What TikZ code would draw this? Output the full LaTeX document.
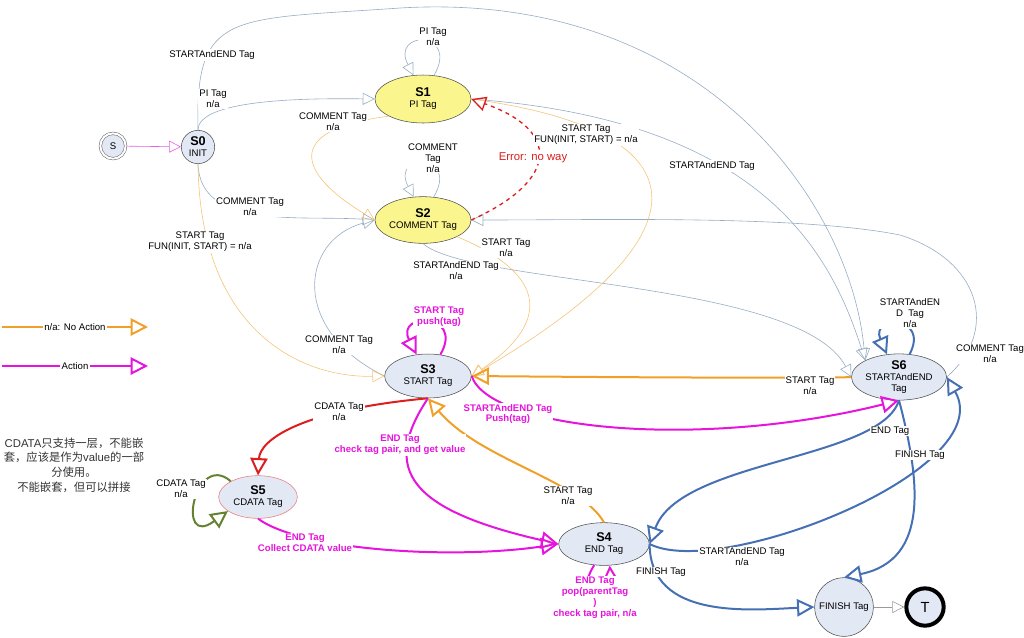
\documentclass[tikz,border=0pt]{standalone}
\usepackage{fontspec}
\setmainfont{Liberation Sans}
\newfontfamily\cjk{Noto Sans CJK SC}
\usetikzlibrary{shapes.geometric,arrows.meta}
\definecolor{bg}{RGB}{150,172,196}
\definecolor{lor}{RGB}{244,196,120}
\definecolor{org}{RGB}{240,160,40}
\definecolor{mag}{RGB}{230,20,220}
\definecolor{stb}{RGB}{70,112,180}
\definecolor{rd}{RGB}{220,30,30}
\definecolor{grn}{RGB}{100,130,50}
\definecolor{yel}{RGB}{250,245,140}
\definecolor{stf}{RGB}{226,232,244}
\begin{document}
\begin{tikzpicture}[x=0.75pt,y=-0.75pt,
 every node/.style={font=\fontsize{7.2}{8.2}\selectfont},
 st/.style={ellipse,draw=black!70,fill=stf,inner sep=0pt,align=center},
 ys/.style={st,fill=yel},
 lb/.style={fill=white,inner sep=0.8pt,align=center},
 mlb/.style={lb,text=mag,font=\fontsize{7.2}{8.2}\selectfont\bfseries},
 tn/.style={draw=bg,line width=0.45pt,-{Triangle[open,length=9pt,width=9pt]}},
 tno/.style={draw=lor,line width=0.45pt,-{Triangle[open,length=9pt,width=9pt]}},
 tk/.style={line width=1.5pt,-{Triangle[open,length=13pt,width=13pt]}},
 tko/.style={tk,draw=org},
 tkm/.style={tk,draw=mag},
 tkb/.style={tk,draw=stb},
]
\useasboundingbox (0,0) rectangle (1024,637);
% states
\node[circle,draw=black!60,fill=stf,minimum size=19pt,double,double distance=1.5pt,inner sep=0] (S) at (113,146) {S};
\node[st,circle,minimum size=25pt] (S0) at (198,147) {\textbf{\fontsize{9.5}{10.5}\selectfont S0}\\INIT};
\node[ys,minimum width=72pt,minimum height=36pt] (S1) at (423,99) {\textbf{\fontsize{9.5}{10.5}\selectfont S1}\\PI Tag};
\node[ys,minimum width=72pt,minimum height=35pt] (S2) at (423,220) {\textbf{\fontsize{9.5}{10.5}\selectfont S2}\\COMMENT Tag};
\node[st,minimum width=65pt,minimum height=33pt] (S3) at (428,376) {\textbf{\fontsize{9.5}{10.5}\selectfont S3}\\START Tag};
\node[st,draw=rd!60,minimum width=59pt,minimum height=32pt] (S5) at (258,497) {\textbf{\fontsize{9.5}{10.5}\selectfont S5}\\CDATA Tag};
\node[st,minimum width=68pt,minimum height=32pt] (S4) at (604,544) {\textbf{\fontsize{9.5}{10.5}\selectfont S4}\\END Tag};
\node[st,minimum width=68pt,minimum height=32pt] (S6) at (899,377) {\textbf{\fontsize{9.5}{10.5}\selectfont S6}\\STARTAndEND\\Tag};
\node[st,circle,minimum size=44pt] (F) at (844,607) {FINISH Tag};
\node[circle,draw=black,line width=3pt,fill=stf,minimum size=28pt,inner sep=0] (T) at (925,607) {\fontsize{11}{12}\selectfont T};
% thin blue edges
\draw[tn,draw=mag!70] (S) -- (S0);
\draw[tn] (S0.north) .. controls (198,100) and (300,98) .. (S1.west);
\draw[tn] (S0.north) .. controls (195,10) and (230,20) .. (400,8) .. controls (700,-10) and (850,200) .. (S6.north west);
\draw[tn] (S0.south) .. controls (200,230) and (300,215) .. (S2.west);
\draw[tn] (S1.east) .. controls (760,120) and (830,250) .. (S6.north west);
\draw[tn] (S2.south) .. controls (470,285) and (800,280) .. (S6.west);
\draw[tn] (S3.west) .. controls (290,330) and (300,240) .. (S2.west);
\draw[tn] (S6.east) .. controls (1000,330) and (980,260) .. (900,235) .. controls (800,215) and (600,220) .. (S2.east);
\draw[tn] (S1.65) .. controls (460,30) and (390,30) .. (S1.112);
\draw[tn] (S2.65) .. controls (460,152) and (390,152) .. (S2.112);
% thin orange
\draw[tno] (S0.south) .. controls (200,330) and (300,378) .. (S3.west);
\draw[tno] (S1.south west) .. controls (280,130) and (300,175) .. (S2.west);
\draw[tno] (S1.east) .. controls (700,130) and (720,230) .. (S3.east);
\draw[tno] (S2.south east) .. controls (560,280) and (540,330) .. (S3.east);
% red dashed
\draw[rd,line width=1pt,dashed,-{Triangle[open,length=11pt,width=11pt]}] (S2.east) .. controls (560,180) and (560,130) .. (S1.east);
% thick
\draw[tkm] (S3.60) .. controls (465,312) and (395,312) .. (S3.118);
\draw[tko] (S6.west) .. controls (840,378) and (700,378) .. (S3.east);
\draw[tkm] (S3.east) .. controls (490,430) and (700,450) .. (S6.south);
\draw[tk,draw=rd] (S3.south) .. controls (300,410) and (260,440) .. (S5.north);
\draw[tk,draw=grn] (S5.150) .. controls (195,450) and (175,550) .. (S5.205);
\draw[tkm] (S5.south) .. controls (300,550) and (450,560) .. (S4.west);
\draw[tkm] (S3.south) .. controls (380,470) and (410,510) .. (S4.west);
\draw[tko] (S4.north) .. controls (580,480) and (480,460) .. (S3.south);
\draw[tkm] (S4.245) .. controls (570,605) and (612,605) .. (S4.285);
\draw[tkm,draw=stb] (S6.65) .. controls (930,315) and (870,315) .. (S6.118);
\draw[tkb] (S6.south) .. controls (880,460) and (680,460) .. (S4.east);
\draw[tkb] (S4.east) .. controls (720,580) and (1000,470) .. (S6.east);
\draw[tkb] (S6.south) .. controls (920,480) and (930,560) .. (F.north);
\draw[tkb] (S4.east) .. controls (650,620) and (750,610) .. (F.west);
\draw[tn,draw=black!40] (F) -- (T);
% labels
\node[lb] (l1) at (212,55) {STARTAndEND Tag};
\node[lb] (l2) at (213,99) {PI Tag\\n/a};
\node[lb] (l3) at (250,207) {COMMENT Tag\\n/a};
\node[lb] (l4) at (200,242) {START Tag\\FUN(INIT, START) = n/a};
\node[lb] (l5) at (433,37) {PI Tag\\n/a};
\node[lb] (l6) at (433,158) {COMMENT\\Tag\\n/a};
\node[lb] (l7) at (333,122) {COMMENT Tag\\n/a};
\node[lb,text=rd,font=\fontsize{8.5}{9.5}\selectfont] (l8) at (533,158) {Error: no way};
\node[lb] (l9) at (586,135) {START Tag\\FUN(INIT, START) = n/a};
\node[lb] (l10) at (712,166) {STARTAndEND Tag};
\node[lb] (l11) at (506,248) {START Tag\\n/a};
\node[lb] (l12) at (456,271) {STARTAndEND Tag\\n/a};
\node[lb] (l13) at (339,345) {COMMENT Tag\\n/a};
\node[lb] (l14) at (990,354) {COMMENT Tag\\n/a};
\node[mlb] (l15) at (439,317) {START Tag\\push(tag)};
\node[lb] (l16) at (810,386) {START Tag\\n/a};
\node[mlb] (l17) at (508,414) {STARTAndEND Tag\\Push(tag)};
\node[lb] (l18) at (339,412) {CDATA Tag\\n/a};
\node[lb] (l19) at (181,489) {CDATA Tag\\n/a};
\node[mlb] (l20) at (305,543) {END Tag\\Collect CDATA value};
\node[mlb] (l21) at (400,445) {END Tag\\check tag pair, and get value};
\node[lb] (l22) at (568,496) {START Tag\\n/a};
\node[mlb] (l23) at (595,598) {END Tag\\pop(parentTag\\)\\check tag pair, n/a};
\node[lb] (l24) at (890,431) {END Tag};
\node[lb] (l25) at (920,455) {FINISH Tag};
\node[lb] (l26) at (742,557) {STARTAndEND Tag\\n/a};
\node[lb] (l27) at (661,572) {FINISH Tag};
\node[lb] (l28) at (910,313) {STARTAndEN\\D\ \ Tag\\n/a};
% legend
\node[lb] (la) at (75,327) {n/a: No Action};
\coordinate (la1) at (2,327); \coordinate (la2) at (148,327);
\draw[tko] (la1) -- (la.west) (la.east) -- (la2);
\node[lb] (lm) at (75,366) {Action};
\coordinate (lm1) at (2,366); \coordinate (lm2) at (148,366);
\draw[tkm] (la1|-lm) -- (lm.west) (lm.east) -- (lm2);
\node[align=center,text=black!80,font=\fontsize{8.5}{11}\selectfont] (cj) at (74,465) {CDATA{\cjk 只支持一层，不能嵌}\\{\cjk 套，应该是作为}value{\cjk 的一部}\\{\cjk 分使用。}\\{\cjk 不能嵌套，但可以拼接}};
\end{tikzpicture}
\end{document}
